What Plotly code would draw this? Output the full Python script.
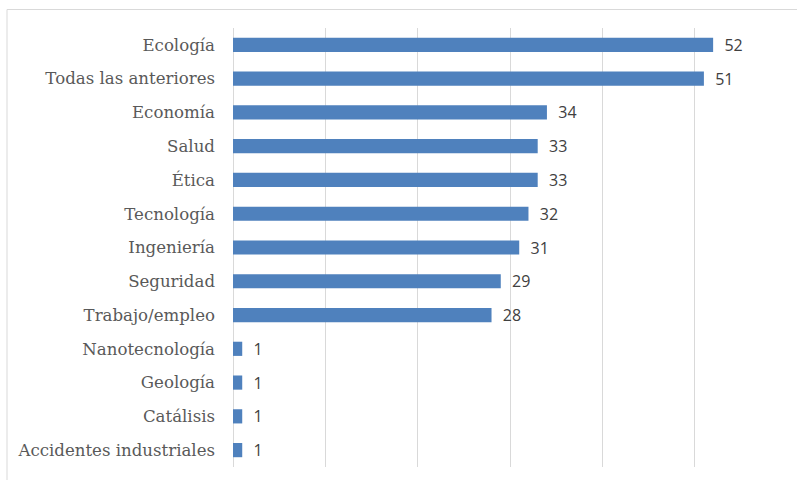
import plotly.graph_objects as go

# Topics, listed top to bottom, with their counts
categorias = [
    "Ecología",
    "Todas las anteriores",
    "Economía",
    "Salud",
    "Ética",
    "Tecnología",
    "Ingeniería",
    "Seguridad",
    "Trabajo/empleo",
    "Nanotecnología",
    "Geología",
    "Catálisis",
    "Accidentes industriales",
]
valores = [52, 51, 34, 33, 33, 32, 31, 29, 28, 1, 1, 1, 1]

W, H = 797, 480
L, R, T, B = 233, 10, 28, 13
pw, ph = W - L - R, H - T - B

fig = go.Figure(
    go.Bar(
        x=valores,
        y=categorias,
        orientation="h",
        marker=dict(color="#4f81bd", line=dict(width=0)),
        text=["  " + str(v) for v in valores],
        textposition="outside",
        constraintext="none",
        textfont=dict(family="Open Sans, Liberation Sans, sans-serif", size=16, color="#404040"),
        cliponaxis=False,
        width=0.42,
    )
)

# outer frame around the chart area
fig.add_shape(
    type="rect",
    xref="paper", yref="paper",
    x0=(7 - L) / pw, x1=(W + 5 - L) / pw,
    y0=-(B + 10) / ph, y1=(H - B - 9.5) / ph,
    line=dict(color="#d9d9d9", width=1),
    fillcolor="rgba(0,0,0,0)",
    layer="below",
)

fig.update_layout(
    width=W,
    height=H,
    margin=dict(l=L, r=R, t=T, b=B),
    paper_bgcolor="white",
    plot_bgcolor="white",
    showlegend=False,
    xaxis=dict(
        range=[0, 60],
        dtick=10,
        showgrid=True,
        gridcolor="#d9d9d9",
        gridwidth=1,
        showticklabels=False,
        zeroline=True,
        zerolinecolor="#d9d9d9",
        zerolinewidth=1,
        showline=False,
        fixedrange=True,
    ),
    yaxis=dict(
        categoryorder="array",
        categoryarray=categorias[::-1],
        tickfont=dict(family="DejaVu Serif, serif", size=16.6, color="#595959"),
        ticks="",
        ticklen=0,
        ticklabelstandoff=17,
        showgrid=False,
        fixedrange=True,
    ),
)

fig.write_html("out.html")
